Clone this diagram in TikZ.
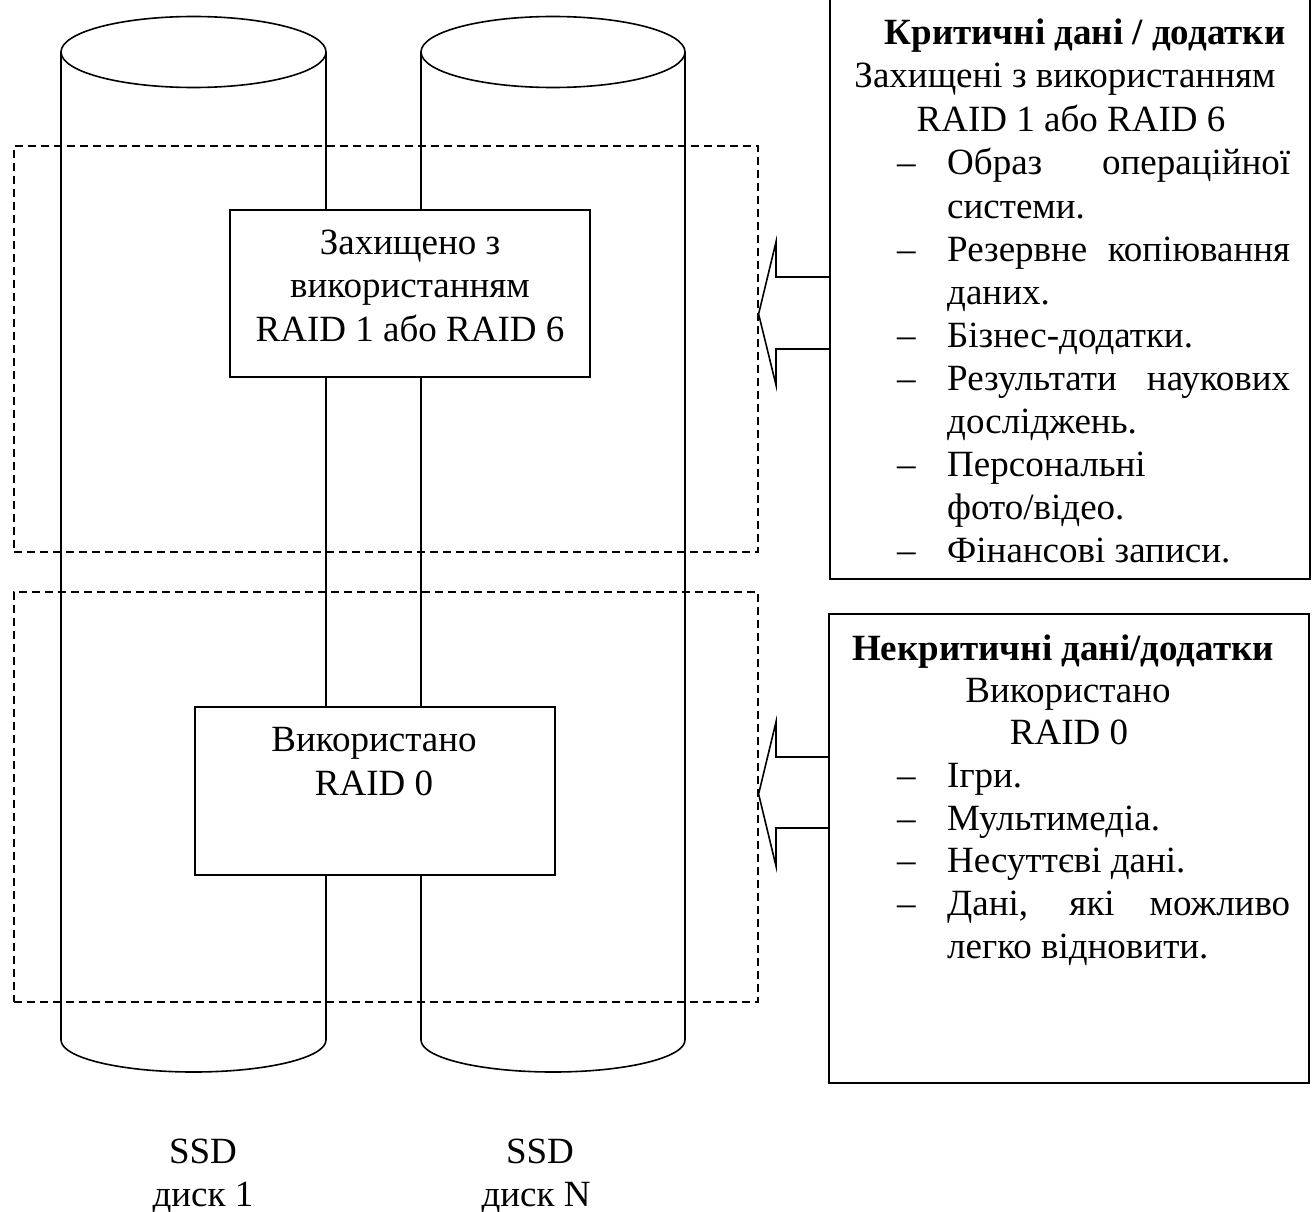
\documentclass[tikz,border=0pt]{standalone}
\usepackage{fontspec}
\setmainfont{Liberation Serif}
\newcommand\fsz{\fontsize{37pt}{43pt}\selectfont}
\tikzset{
  ln/.style={line width=1.6pt, line join=miter},
  dbox/.style={line width=1.6pt, dash pattern=on 8pt off 5pt, inner sep=0pt, anchor=north west},
  sbox/.style={draw, line width=1.6pt, fill=white, inner sep=0pt, anchor=north west},
  rbox/.style={draw, line width=1.6pt, inner sep=0pt, anchor=north west},
  ctext/.style={inner sep=0pt, anchor=base, font=\fsz},
  ltext/.style={inner sep=0pt, anchor=base west, font=\fsz},
}
\begin{document}
\begin{tikzpicture}[x=1pt,y=-1pt]
\useasboundingbox (0,0) rectangle (1312,1212);
\fill[white] (0,0) rectangle (1312,1212);

% cylinder 1
\draw[ln] (193.5,52) ellipse [x radius=132.5, y radius=35.5];
\draw[ln] (61,52) -- (61,1040) .. controls (61,1057.7) and (120.3,1072) .. (193.5,1072)
  .. controls (266.7,1072) and (326,1057.7) .. (326,1040) -- (326,52);
% cylinder 2
\draw[ln] (553,52) ellipse [x radius=132, y radius=35.5];
\draw[ln] (421,52) -- (421,1040) .. controls (421,1057.7) and (480.1,1072) .. (553,1072)
  .. controls (625.9,1072) and (685,1057.7) .. (685,1040) -- (685,52);

% dashed groups
\node[dbox, draw, minimum width=744pt, minimum height=406pt] (prot) at (13,145) {};
\node[dbox, draw, minimum width=744pt, minimum height=410pt] (fast) at (13,591) {};

% inner boxes
\node[sbox, minimum width=360pt, minimum height=167pt] (pbox) at (229,209) {};
\node[ctext] (p1) at (410,254) {Захищено з};
\node[ctext] (p2) at (410,297) {використанням};
\node[ctext] (p3) at (410,341) {RAID 1 або RAID 6};

\node[sbox, minimum width=360pt, minimum height=168pt] (fbox) at (194,706) {};
\node[ctext] (f1) at (374,751) {Використано};
\node[ctext] (f2) at (374,795) {RAID 0};

% right boxes
\node[rbox, minimum width=480pt, minimum height=581pt] (crit) at (829,-3) {};
\node[ctext] (c0) at (1085,45) {\bfseries Критичні дані / додатки};
\node[ctext] (c1) at (1065,88) {Захищені з використанням};
\node[ctext] (c2) at (1071,132) {RAID 1 або RAID 6};
\foreach \yy in {175,261,347,390,476,562} {\node[ltext] at (897,\yy) {–};}
\node[ltext] (c3) at (947,175) {\makebox[343pt][s]{Образ операційної}};
\node[ltext] (c4) at (947,218) {системи.};
\node[ltext] (c5) at (947,261) {\makebox[343pt][s]{Резервне копіювання}};
\node[ltext] (c6) at (947,304) {даних.};
\node[ltext] (c7) at (947,347) {Бізнес-додатки.};
\node[ltext] (c8) at (947,390) {\makebox[343pt][s]{Результати наукових}};
\node[ltext] (c9) at (947,433) {досліджень.};
\node[ltext] (c10) at (947,476) {Персональні};
\node[ltext] (c11) at (947,519) {фото/відео.};
\node[ltext] (c12) at (947,562) {Фінансові записи.};

\node[rbox, minimum width=480pt, minimum height=469pt] (ncrit) at (828,613) {};
\node[ctext] (n0) at (1063,660) {\bfseries Некритичні дані/додатки};
\node[ctext] (n1) at (1068,702) {Використано};
\node[ctext] (n2) at (1069,744) {RAID 0};
\foreach \yy in {787,830,872,915} {\node[ltext] at (897,\yy) {–};}
\node[ltext] (n3) at (947,787) {Ігри.};
\node[ltext] (n4) at (947,830) {Мультимедіа.};
\node[ltext] (n5) at (947,872) {Несуттєві дані.};
\node[ltext] (n6) at (947,915) {\makebox[343pt][s]{Дані, які можливо}};
\node[ltext] (n7) at (947,958) {легко відновити.};

% block arrows
\coordinate (tip1) at (prot.east |- 0,314);
\draw[ln] (crit.west |- 0,277) -- (776,277) -- (776,242) -- (tip1) -- (776,385) -- (776,349) -- (crit.west |- 0,349);
\coordinate (tip2) at (fast.east |- 0,794);
\draw[ln] (ncrit.west |- 0,757) -- (776,757) -- (776,722) -- (tip2) -- (776,866) -- (776,828) -- (ncrit.west |- 0,828);

% labels
\node[ctext] (s1) at (203,1163) {SSD};
\node[ctext] (d1) at (203,1206) {диск 1};
\node[ctext] (s2) at (540,1163) {SSD};
\node[ctext] (d2) at (536,1206) {диск N};
\end{tikzpicture}
\end{document}
